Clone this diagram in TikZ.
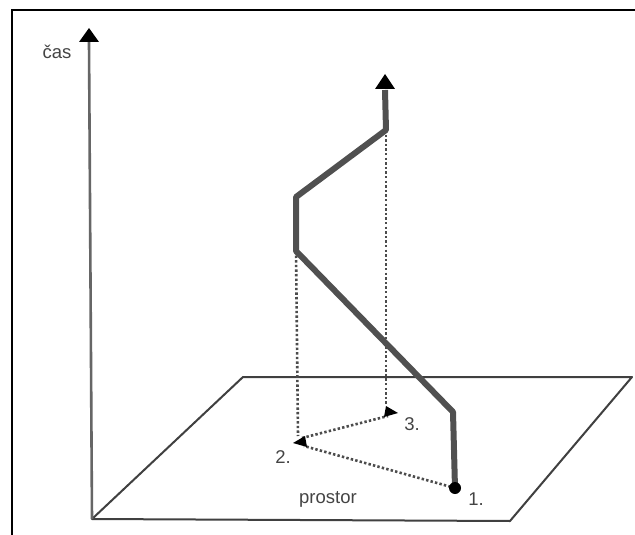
\documentclass[tikz,border=0pt]{standalone}
\usepackage{fontspec}
\setmainfont{Liberation Sans}
\usetikzlibrary{arrows.meta}
\definecolor{lbl}{HTML}{444444}
\definecolor{wl}{HTML}{505050}
\tikzset{
  lab/.style={font=\fontsize{18.5}{20}\selectfont, text=lbl, inner sep=1pt},
  edge/.style={line width=2pt, draw=black!75},
  world/.style={line width=6pt, draw=wl, line join=round},
  proj/.style={line width=2.6pt, draw=black!70, dash pattern=on 2.4pt off 2.2pt}
}
\begin{document}
\begin{tikzpicture}[x=1pt,y=-1pt]
\useasboundingbox (0,0) rectangle (635,535);
\fill[white] (0,0) rectangle (635,535);
% frame (top and left)
\draw[line width=2.2pt] (12,535) -- (12,10) -- (635,10);
% plane
\coordinate (pbl) at (92,519);
\coordinate (pbr) at (510,521);
\coordinate (ptr) at (632,377);
\coordinate (ptl) at (243,377);
\draw[edge, line join=round] (pbl) -- (pbr) -- (ptr) -- (ptl) -- cycle;
% time axis
\coordinate (tt) at (89,28);
\draw[line width=2.6pt, draw=black!60] (pbl) -- (89,42);
\fill[black] (tt) -- (99,42) -- (79,42) -- cycle;
\node[lab] (cas) at (57,52) {čas};
% worldline points
\coordinate (w1) at (455,488);
\coordinate (w1b) at (453,412);
\coordinate (w2a) at (296,251);
\coordinate (w2b) at (296,197);
\coordinate (w3a) at (386,130);
\coordinate (wtop) at (385,74);
% projections
\coordinate (p2) at (293,443);
\coordinate (p3) at (398,413);
\draw[proj] (w2a) -- (298,436);
\draw[proj] (w3a) -- (386,405);
\draw[proj] (w1) -- (304,446);
\draw[proj] (302,438) -- (388,416);
\fill[black] (p2) -- ++(12,-7) -- ++(2,11) -- cycle;
\fill[black] (p3) -- ++(-12,-7) -- ++(-2,11) -- cycle;
% worldline
\draw[world] (w1) -- (w1b) -- (w2a) -- (w2b) -- (w3a) -- (385,90);
\fill[black] (wtop) -- (395,89) -- (375,89) -- cycle;
\fill[black] (w1) circle (6);
% labels
\node[lab] (l1) at (476,499) {1.};
\node[lab] (l2) at (283,457) {2.};
\node[lab] (l3) at (412,424) {3.};
\node[lab] (pr) at (328,499) {prostor};
\end{tikzpicture}
\end{document}
